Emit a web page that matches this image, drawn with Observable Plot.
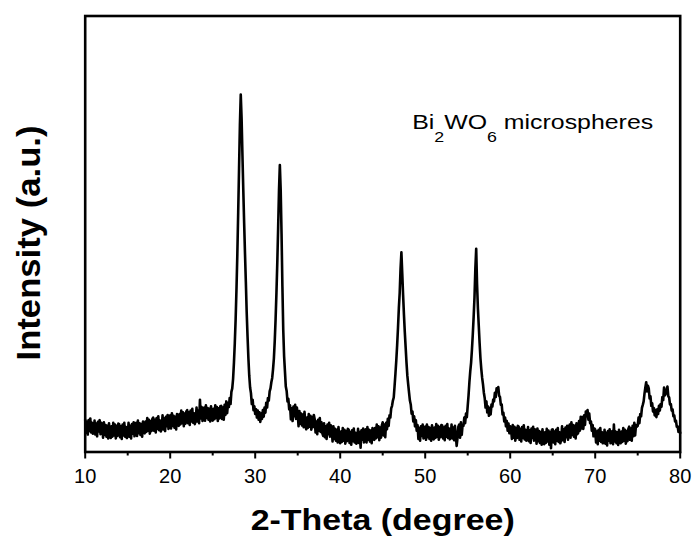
<!DOCTYPE html>
<html><head><meta charset="utf-8">
<script src="https://cdn.jsdelivr.net/npm/d3@7"></script>
<script src="https://cdn.jsdelivr.net/npm/@observablehq/plot@0.6"></script>
<style>html,body{margin:0;padding:0;background:#fff;} #chart{width:697px;height:543px;overflow:hidden}</style>
</head><body><div id="chart"></div>
<script>
// 2-theta sampling (degrees), one line per degree
const twoTheta = [
10,10.1,10.2,10.3,10.4,10.5,10.6,10.7,10.8,10.9,
11,11.1,11.2,11.3,11.4,11.5,11.6,11.7,11.8,11.9,
12,12.1,12.2,12.3,12.4,12.5,12.6,12.7,12.8,12.9,
13,13.1,13.2,13.3,13.4,13.5,13.6,13.7,13.8,13.9,
14,14.1,14.2,14.3,14.4,14.5,14.6,14.7,14.8,14.9,
15,15.1,15.2,15.3,15.4,15.5,15.6,15.7,15.8,15.9,
16,16.1,16.2,16.3,16.4,16.5,16.6,16.7,16.8,16.9,
17,17.1,17.2,17.3,17.4,17.5,17.6,17.7,17.8,17.9,
18,18.1,18.2,18.3,18.4,18.5,18.6,18.7,18.8,18.9,
19,19.1,19.2,19.3,19.4,19.5,19.6,19.7,19.8,19.9,
20,20.1,20.2,20.3,20.4,20.5,20.6,20.7,20.8,20.9,
21,21.1,21.2,21.3,21.4,21.5,21.6,21.7,21.8,21.9,
22,22.1,22.2,22.3,22.4,22.5,22.6,22.7,22.8,22.9,
23,23.1,23.2,23.3,23.4,23.5,23.6,23.7,23.8,23.9,
24,24.1,24.2,24.3,24.4,24.5,24.6,24.7,24.8,24.9,
25,25.1,25.2,25.3,25.4,25.5,25.6,25.7,25.8,25.9,
26,26.1,26.2,26.3,26.4,26.5,26.6,26.7,26.8,26.9,
27,27.1,27.2,27.3,27.4,27.5,27.6,27.7,27.8,27.9,
28,28.1,28.2,28.3,28.4,28.5,28.6,28.7,28.8,28.9,
29,29.1,29.2,29.3,29.4,29.5,29.6,29.7,29.8,29.9,
30,30.1,30.2,30.3,30.4,30.5,30.6,30.7,30.8,30.9,
31,31.1,31.2,31.3,31.4,31.5,31.6,31.7,31.8,31.9,
32,32.1,32.2,32.3,32.4,32.5,32.6,32.7,32.8,32.9,
33,33.1,33.2,33.3,33.4,33.5,33.6,33.7,33.8,33.9,
34,34.1,34.2,34.3,34.4,34.5,34.6,34.7,34.8,34.9,
35,35.1,35.2,35.3,35.4,35.5,35.6,35.7,35.8,35.9,
36,36.1,36.2,36.3,36.4,36.5,36.6,36.7,36.8,36.9,
37,37.1,37.2,37.3,37.4,37.5,37.6,37.7,37.8,37.9,
38,38.1,38.2,38.3,38.4,38.5,38.6,38.7,38.8,38.9,
39,39.1,39.2,39.3,39.4,39.5,39.6,39.7,39.8,39.9,
40,40.1,40.2,40.3,40.4,40.5,40.6,40.7,40.8,40.9,
41,41.1,41.2,41.3,41.4,41.5,41.6,41.7,41.8,41.9,
42,42.1,42.2,42.3,42.4,42.5,42.6,42.7,42.8,42.9,
43,43.1,43.2,43.3,43.4,43.5,43.6,43.7,43.8,43.9,
44,44.1,44.2,44.3,44.4,44.5,44.6,44.7,44.8,44.9,
45,45.1,45.2,45.3,45.4,45.5,45.6,45.7,45.8,45.9,
46,46.1,46.2,46.3,46.4,46.5,46.6,46.7,46.8,46.9,
47,47.1,47.2,47.3,47.4,47.5,47.6,47.7,47.8,47.9,
48,48.1,48.2,48.3,48.4,48.5,48.6,48.7,48.8,48.9,
49,49.1,49.2,49.3,49.4,49.5,49.6,49.7,49.8,49.9,
50,50.1,50.2,50.3,50.4,50.5,50.6,50.7,50.8,50.9,
51,51.1,51.2,51.3,51.4,51.5,51.6,51.7,51.8,51.9,
52,52.1,52.2,52.3,52.4,52.5,52.6,52.7,52.8,52.9,
53,53.1,53.2,53.3,53.4,53.5,53.6,53.7,53.8,53.9,
54,54.1,54.2,54.3,54.4,54.5,54.6,54.7,54.8,54.9,
55,55.1,55.2,55.3,55.4,55.5,55.6,55.7,55.8,55.9,
56,56.1,56.2,56.3,56.4,56.5,56.6,56.7,56.8,56.9,
57,57.1,57.2,57.3,57.4,57.5,57.6,57.7,57.8,57.9,
58,58.1,58.2,58.3,58.4,58.5,58.6,58.7,58.8,58.9,
59,59.1,59.2,59.3,59.4,59.5,59.6,59.7,59.8,59.9,
60,60.1,60.2,60.3,60.4,60.5,60.6,60.7,60.8,60.9,
61,61.1,61.2,61.3,61.4,61.5,61.6,61.7,61.8,61.9,
62,62.1,62.2,62.3,62.4,62.5,62.6,62.7,62.8,62.9,
63,63.1,63.2,63.3,63.4,63.5,63.6,63.7,63.8,63.9,
64,64.1,64.2,64.3,64.4,64.5,64.6,64.7,64.8,64.9,
65,65.1,65.2,65.3,65.4,65.5,65.6,65.7,65.8,65.9,
66,66.1,66.2,66.3,66.4,66.5,66.6,66.7,66.8,66.9,
67,67.1,67.2,67.3,67.4,67.5,67.6,67.7,67.8,67.9,
68,68.1,68.2,68.3,68.4,68.5,68.6,68.7,68.8,68.9,
69,69.1,69.2,69.3,69.4,69.5,69.6,69.7,69.8,69.9,
70,70.1,70.2,70.3,70.4,70.5,70.6,70.7,70.8,70.9,
71,71.1,71.2,71.3,71.4,71.5,71.6,71.7,71.8,71.9,
72,72.1,72.2,72.3,72.4,72.5,72.6,72.7,72.8,72.9,
73,73.1,73.2,73.3,73.4,73.5,73.6,73.7,73.8,73.9,
74,74.1,74.2,74.3,74.4,74.5,74.6,74.7,74.8,74.9,
75,75.1,75.2,75.3,75.4,75.5,75.6,75.7,75.8,75.9,
76,76.1,76.2,76.3,76.4,76.5,76.6,76.7,76.8,76.9,
77,77.1,77.2,77.3,77.4,77.5,77.6,77.7,77.8,77.9,
78,78.1,78.2,78.3,78.4,78.5,78.6,78.7,78.8,78.9,
79,79.1,79.2,79.3,79.4,79.5,79.6,79.7,79.8,79.9,
80
];
// intensity (arbitrary units), one line per degree
const intensity = [
7.4,4.4,6.9,4.0,7.3,4.8,7.7,4.5,6.7,4.2,
4.3,7.2,4.0,6.5,3.6,6.9,4.7,7.3,4.1,6.7,
6.3,3.3,6.8,3.9,6.2,3.5,6.0,3.1,6.6,4.1,
3.2,5.9,3.5,6.7,3.8,6.3,3.1,6.0,3.7,6.5,
6.4,3.4,5.9,3.0,6.3,3.8,6.7,3.5,5.7,3.2,
3.8,6.7,3.5,6.0,3.1,6.4,4.2,6.8,3.6,6.2,
6.7,3.7,7.2,4.3,6.6,3.9,6.4,3.5,7.0,4.5,
4.3,7.0,4.6,7.8,4.9,7.4,4.2,7.1,4.8,7.6,
7.9,4.9,7.4,4.5,7.8,5.3,8.2,5.0,7.2,4.7,
5.5,8.4,5.2,7.7,4.8,8.1,5.9,8.5,5.3,7.9,
8.4,5.4,8.9,6.0,8.3,5.6,8.1,5.2,8.7,6.2,
6.0,8.7,6.3,9.5,6.6,9.1,5.9,8.8,6.5,9.3,
9.6,6.6,9.1,6.2,9.5,7.0,9.9,6.7,8.9,6.4,
7.3,10.2,7.0,9.5,6.6,12.0,7.7,10.3,7.1,9.7,
10.2,7.2,10.7,7.8,10.1,7.4,9.9,7.0,10.5,8.0,
7.2,9.9,7.5,10.7,7.8,10.3,7.1,10.0,7.7,10.5,
10.6,7.6,10.2,7.4,10.8,8.5,11.6,8.9,11.2,10.3,
12.4,11.0,13.8,14.6,16.8,20.5,25.0,30.5,37.5,45.5,
55.0,65.0,75.0,82.0,76.5,68.0,60.0,52.5,45.5,39.0,
32.0,26.5,21.5,17.5,14.8,13.5,11.0,12.0,9.6,10.5,
8.7,9.8,7.9,9.5,7.4,9.1,6.9,8.8,7.6,9.6,
8.1,10.2,9.0,11.3,10.2,12.4,11.8,13.9,14.6,16.0,
17.0,19.0,21.5,25.5,30.5,36.5,43.5,51.5,60.0,65.8,
60.0,50.0,38.0,28.0,22.0,18.5,15.0,14.0,11.6,12.2,
9.8,10.7,7.5,10.0,7.1,10.4,8.2,10.8,7.6,10.2,
8.9,5.9,9.4,6.5,8.8,6.1,8.6,5.7,9.2,6.7,
5.2,7.9,5.5,8.7,5.8,8.3,5.1,8.0,5.7,8.5,
7.5,4.5,7.0,4.1,7.4,4.9,7.8,4.6,6.8,4.3,
3.7,6.6,3.4,5.9,3.0,6.3,4.1,6.7,3.5,6.1,
5.4,2.4,5.9,3.0,5.3,2.6,5.1,2.2,5.7,3.2,
2.0,4.7,2.3,5.5,2.6,5.1,1.9,4.8,2.5,5.3,
5.1,2.1,4.6,1.7,5.0,2.5,5.4,2.2,4.4,1.9,
2.4,5.3,2.1,4.6,1.0,5.0,2.8,5.4,2.2,4.8,
5.2,2.2,5.7,2.8,5.1,2.4,4.9,2.0,5.5,3.0,
2.8,5.5,3.1,6.3,3.4,5.9,2.7,5.6,3.3,6.1,
6.8,3.8,6.3,3.4,6.7,5.2,7.6,6.0,8.4,7.9,
10.0,10.6,11.8,12.5,15.2,18.0,21.0,24.5,28.5,33.0,
36.5,42.0,45.8,41.0,36.0,31.5,27.5,24.0,20.5,17.5,
15.5,13.6,11.8,10.9,8.8,9.3,7.0,8.2,5.9,7.3,
4.9,6.2,3.0,5.5,2.6,5.9,3.7,6.3,3.1,5.7,
5.8,2.8,6.3,3.4,5.7,3.0,5.5,2.6,6.1,3.6,
2.9,5.6,3.2,6.4,3.5,6.0,2.8,5.7,3.4,6.2,
6.1,3.1,5.6,2.7,6.0,3.5,6.4,3.2,5.4,2.9,
3.4,6.3,3.1,5.6,2.7,6.0,3.8,1.4,3.2,5.8,
6.3,3.3,6.8,3.9,6.2,6.0,7.9,6.6,8.8,8.0,
10.5,13.0,16.0,18.5,20.5,23.5,27.0,31.0,35.5,42.0,
46.6,38.5,33.0,29.0,25.0,21.5,19.0,17.0,15.5,13.6,
12.4,10.2,11.6,9.1,10.4,8.3,10.1,8.6,10.9,10.4,
12.0,11.6,13.6,12.6,14.6,14.2,14.9,12.9,12.6,10.8,
10.9,8.6,9.0,7.0,7.9,5.9,7.1,4.9,6.5,4.3,
5.9,5.4,3.0,6.2,3.3,5.8,2.6,5.5,3.2,6.0,
5.8,2.8,5.3,2.4,5.7,3.2,6.1,2.9,5.1,2.6,
2.8,5.7,2.5,5.0,2.1,5.4,3.2,5.8,2.6,5.2,
4.9,1.9,5.4,2.5,4.8,2.1,4.6,1.7,5.2,2.7,
1.8,4.5,2.1,5.3,2.4,4.9,1.7,4.6,0.9,5.1,
5.2,2.2,4.7,1.8,5.1,2.6,5.5,2.3,4.5,2.0,
3.0,5.9,2.7,5.2,2.3,5.6,3.4,6.0,2.8,5.4,
6.3,3.3,6.8,3.9,6.2,3.5,6.0,3.1,6.6,4.1,
4.4,7.1,4.9,8.1,5.4,8.0,5.3,8.4,6.2,9.3,
8.2,9.6,7.4,8.8,6.6,7.0,4.9,6.2,3.6,5.4,
5.2,2.2,4.7,1.8,5.1,2.6,5.5,2.3,4.5,2.0,
2.2,5.1,1.9,4.4,1.5,4.8,2.6,5.2,2.0,4.6,
4.8,1.8,6.3,2.4,4.7,2.0,4.5,1.6,5.1,2.6,
2.0,4.7,2.3,5.5,2.6,5.1,1.9,4.8,2.5,5.3,
5.8,2.8,5.4,2.6,6.0,3.6,6.7,3.8,6.2,5.8,
6.0,7.9,6.6,8.7,8.2,10.1,10.8,11.6,13.4,14.8,
16.0,13.9,15.2,14.6,12.3,12.8,10.6,11.2,9.3,10.1,
8.4,9.6,8.0,9.8,8.7,10.6,9.5,11.0,10.4,12.6,
11.9,14.8,13.0,13.4,14.2,15.0,12.8,12.5,10.9,11.0,
9.5,9.8,8.2,8.4,7.0,7.2,5.8,5.9,4.6,5.0,
4.4
];
const majorTicks = [10, 20, 30, 40, 50, 60, 70, 80];
const minorTicks = [15, 25, 35, 45, 55, 65, 75];
const xTitle = "2-Theta (degree)";
const yTitle = "Intensity (a.u.)";
const sampleName = "Bi2WO6 microspheres";

if (twoTheta.length !== intensity.length) throw new Error("length mismatch " + twoTheta.length + " vs " + intensity.length);

const data = twoTheta.map((t, i) => ({t, v: intensity[i]}));
const FONT = "'Liberation Sans', Arial, Helvetica, sans-serif";

const chart = Plot.plot({
  width: 697, height: 543,
  marginLeft: 84.7, marginRight: 17.3, marginTop: 15.5, marginBottom: 91.5,
  style: {fontFamily: FONT, background: "#fff", color: "#000", overflow: "visible"},
  x: {domain: [10, 80]},
  y: {domain: [0, 100], axis: null},
  marks: [
    Plot.line(data, {x: "t", y: "v", stroke: "#000", strokeWidth: 2.6, strokeLinejoin: "round"}),
    Plot.frame({stroke: "#000", strokeWidth: 2.6}),
    Plot.axisX({ticks: majorTicks, tickSize: 7, tickPadding: 10, strokeWidth: 2, fontSize: 20, tickFormat: d => String(d), label: null}),
    Plot.axisX({ticks: minorTicks, tickSize: 4, strokeWidth: 2, tickFormat: () => "", label: null}),
    Plot.text([xTitle], {frameAnchor: "bottom", dy: 77.8, lineAnchor: "bottom", textAnchor: "middle", fontSize: 30, fontWeight: "bold"}),
    Plot.text([yTitle], {frameAnchor: "left", rotate: -90, dx: -44.7, dy: 9, lineAnchor: "bottom", textAnchor: "middle", fontSize: 34, fontWeight: "bold"}),
    Plot.text([sampleName], {x: [48.47], y: [74.1], textAnchor: "start", lineAnchor: "bottom", fontSize: 21})
  ]
});
document.getElementById("chart").appendChild(chart);

// post-process text: stretched titles, subscripts in the sample name
d3.select(chart).selectAll("text").each(function() {
  const el = d3.select(this);
  const s = this.textContent;
  if (s === xTitle) el.attr("textLength", 264).attr("lengthAdjust", "spacingAndGlyphs");
  else if (s === yTitle) el.attr("textLength", 235).attr("lengthAdjust", "spacingAndGlyphs");
  else if (s === sampleName) {
    el.text("");
    const parts = [["Bi", 0], ["2", 1], ["WO", 0], ["6", 1], [" microspheres", 0]];
    let shifted = false;
    for (const [p, sub] of parts) {
      const ts = el.append("tspan").text(p);
      if (sub) { ts.attr("font-size", 15).attr("dy", 13); shifted = true; }
      else if (shifted) { ts.attr("dy", -13); shifted = false; }
    }
    el.attr("textLength", 241).attr("lengthAdjust", "spacingAndGlyphs");
  }
});
</script>
</body></html>
